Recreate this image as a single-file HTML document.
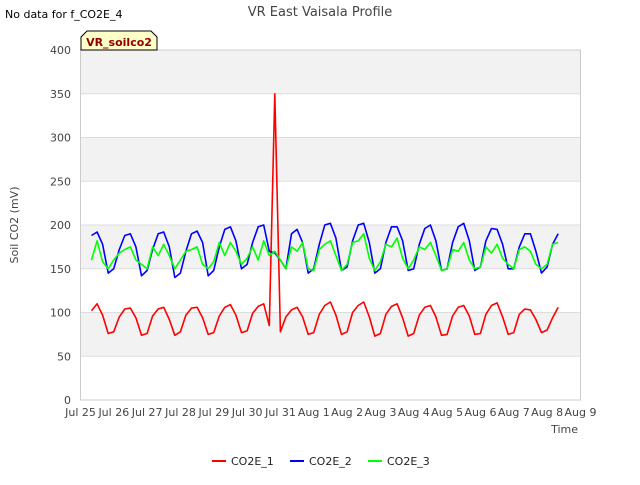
<!DOCTYPE html>
<html><head><meta charset="utf-8"><style>
body{margin:0;background:#fff;font-family:"Liberation Sans","DejaVu Sans",sans-serif}
</style></head><body>
<svg id="c" width="640" height="480" viewBox="0 0 640 480" xmlns="http://www.w3.org/2000/svg" font-family="DejaVu Sans, Liberation Sans, sans-serif">
<text x="5" y="18" font-size="11" fill="#000">No data for f_CO2E_4</text>
<text x="320" y="16" font-size="13" fill="#444" text-anchor="middle">VR East Vaisala Profile</text>
<g id="bands"></g>
<g id="yt"></g>
<g id="xt"></g>
<rect x="80.5" y="50" width="500" height="350" fill="none" stroke="#ccc"/>
<g id="series"></g>
<path d="M81,50 L81,37 L87,31 L151,31 L157,37 L157,50 Z" fill="#ffffc8" stroke="#000" stroke-width="1"/>
<text x="119" y="46" font-size="11" font-weight="bold" fill="#8b0000" text-anchor="middle">VR_soilco2</text>
<text transform="translate(18,225) rotate(-90)" font-size="11" fill="#444" text-anchor="middle">Soil CO2 (mV)</text>
<text x="578" y="433" font-size="11" fill="#444" text-anchor="end">Time</text>
<g>
<line x1="212" y1="461" x2="226" y2="461" stroke="#f00" stroke-width="2"/>
<text x="231" y="465" font-size="11" fill="#222">CO2E_1</text>
<line x1="290" y1="461" x2="304" y2="461" stroke="#00f" stroke-width="2"/>
<text x="309" y="465" font-size="11" fill="#222">CO2E_2</text>
<line x1="368" y1="461" x2="382" y2="461" stroke="#0f0" stroke-width="2"/>
<text x="387" y="465" font-size="11" fill="#222">CO2E_3</text>
</g>
</svg>
<script>
const xTickLabels=["Jul 25","Jul 26","Jul 27","Jul 28","Jul 29","Jul 30","Jul 31","Aug 1","Aug 2","Aug 3","Aug 4","Aug 5","Aug 6","Aug 7","Aug 8","Aug 9"];
const yTicks=[0,50,100,150,200,250,300,350,400];
const startDay=0.33; // days after Jul 25
const stepDays=1/6;
const co2e1=[102,110,97,76,78,95, 104,105,94,74,76,96, 104,106,92,74,78,97, 105,106,94,75,77,96, 106,109,97,77,79,99, 107,110,85,350,78,95, 103,106,95,75,77,98, 108,112,97,75,78,100, 108,112,95,73,76,98, 107,110,94,73,76,97, 106,108,95,74,75,96, 106,108,96,75,76,98, 108,111,95,75,77,98, 104,103,92,77,80,94, 106];
const co2e2=[188,192,178,145,150,172, 188,190,175,142,148,172, 190,192,175,140,145,170, 190,193,180,142,148,175, 195,198,182,150,155,180, 198,200,170,168,160,150, 190,195,180,145,150,178, 200,202,185,148,152,182, 200,202,180,145,150,180, 198,198,182,148,150,178, 196,200,182,148,150,180, 198,202,182,148,152,182, 196,195,178,150,150,175, 190,190,170,145,152,178, 190];
const co2e3=[160,182,158,150,160,168, 172,175,160,155,150,175, 165,178,165,150,160,170, 172,175,155,150,158,180, 165,180,170,155,162,175, 160,182,165,170,160,150, 175,170,180,150,148,172, 178,182,165,148,155,180, 182,190,162,148,158,178, 175,185,162,150,160,175, 172,180,165,148,150,172, 170,180,160,150,152,175, 168,178,162,155,150,172, 175,170,155,150,155,178, 180];
const X0=80.5,X1=580.5,Y0=400,Y1=50;
const xs=d=>X0+(X1-X0)*d/15;
const ys=v=>Y0-(Y0-Y1)*v/400;
const NS="http://www.w3.org/2000/svg";
function mk(t,a,p){const e=document.createElementNS(NS,t);for(const k in a)e.setAttribute(k,a[k]);p.appendChild(e);return e;}
const bands=document.getElementById('bands');
for(let i=0;i<yTicks.length-1;i++){
 if(i%2===1){const r=mk('rect',{x:X0,y:ys(yTicks[i+1]),width:X1-X0,height:ys(yTicks[i])-ys(yTicks[i+1]),fill:'#f2f2f2'},bands);
 
 }
}
const yt=document.getElementById('yt');
yTicks.forEach(v=>{
 const l=mk('line',{x1:X0,x2:X1,y1:ys(v),y2:ys(v),stroke:'#ddd'},yt);
 
 
 const t=mk('text',{x:71,y:ys(v)+4,'font-size':11,fill:'#444','text-anchor':'end'},yt);
 t.textContent=v;
 
 
});
const xt=document.getElementById('xt');
xTickLabels.forEach((s,i)=>{
 const t=mk('text',{x:xs(i),y:416,'font-size':11,fill:'#444','text-anchor':'middle'},xt);
 t.textContent=s;
 
 
});
const g=document.getElementById('series');
[[co2e1,'#f00','co2e-1-line'],[co2e2,'#00f','co2e-2-line'],[co2e3,'#0f0','co2e-3-line']].forEach(([arr,c,n])=>{
 const d=arr.map((v,i)=>(i?'L':'M')+xs(startDay+i*stepDays).toFixed(1)+','+ys(v).toFixed(1)).join(' ');
 const p=mk('path',{d:d,fill:'none',stroke:c,'stroke-width':1.6,'stroke-linejoin':'round'},g);
 
 
});
</script>
</body></html>
